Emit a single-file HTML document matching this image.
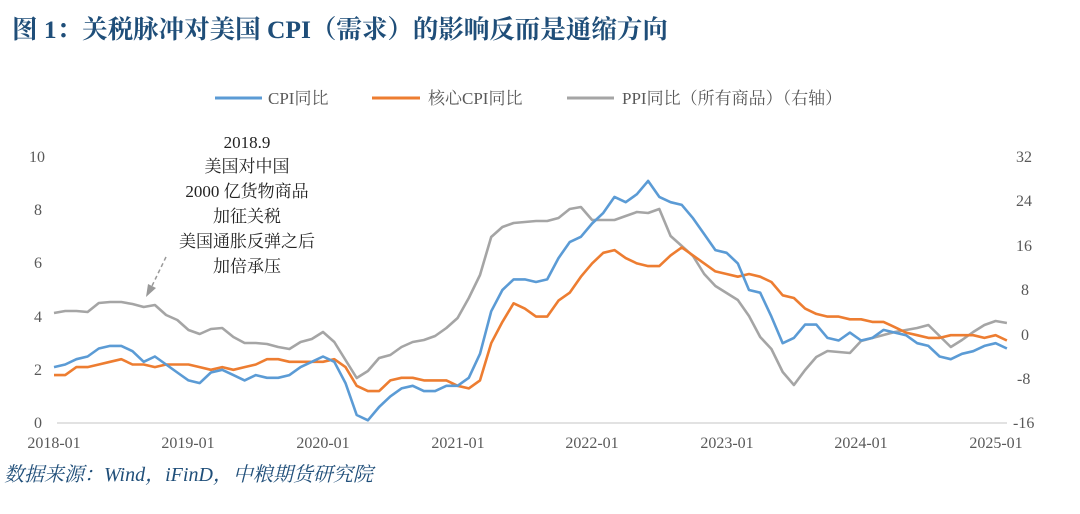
<!DOCTYPE html>
<html><head><meta charset="utf-8"><style>
body{margin:0;background:#fff;}
svg{display:block;}
</style></head><body>
<svg id="s" width="1080" height="514" xmlns="http://www.w3.org/2000/svg" font-family="'Liberation Serif','Noto Serif CJK SC',serif">
<text x="12" y="38" font-size="25.5" font-weight="bold" fill="#1f4e79">图 1：关税脉冲对美国 CPI（需求）的影响反而是通缩方向</text>
<g font-size="17" fill="#595959">
<line x1="215" y1="98" x2="262" y2="98" stroke="#5b9bd5" stroke-width="3"/>
<text x="268" y="104">CPI同比</text>
<line x1="372" y1="98" x2="420" y2="98" stroke="#ed7d31" stroke-width="3"/>
<text x="428" y="104">核心CPI同比</text>
<line x1="567" y1="98" x2="614" y2="98" stroke="#a5a5a5" stroke-width="3"/>
<text x="622" y="104">PPI同比（所有商品）（右轴）</text>
</g>
<line x1="57" y1="423" x2="1007" y2="423" stroke="#d9d9d9" stroke-width="1.5"/>
<g font-size="16" fill="#595959" text-anchor="end">
<text x="42" y="428">0</text><text x="42" y="375">2</text><text x="42" y="322">4</text><text x="42" y="268">6</text><text x="42" y="215">8</text><text x="45" y="162">10</text>
</g>
<g font-size="16" fill="#595959" text-anchor="start">
<text x="1013" y="428">-16</text><text x="1017" y="384">-8</text><text x="1021" y="340">0</text><text x="1021" y="295">8</text><text x="1016" y="251">16</text><text x="1016" y="206">24</text><text x="1016" y="162">32</text>
</g>
<g font-size="16" fill="#595959" text-anchor="middle">
<text x="54" y="448">2018-01</text><text x="188" y="448">2019-01</text><text x="323" y="448">2020-01</text><text x="458" y="448">2021-01</text><text x="592" y="448">2022-01</text><text x="727" y="448">2023-01</text><text x="861" y="448">2024-01</text><text x="996" y="448">2025-01</text>
</g>
<g font-size="17" fill="#222" text-anchor="middle">
<text x="247" y="148">2018.9</text>
<text x="247" y="172">美国对中国</text>
<text x="247" y="197">2000 亿货物商品</text>
<text x="247" y="222">加征关税</text>
<text x="247" y="247">美国通胀反弹之后</text>
<text x="247" y="272">加倍承压</text>
</g>
<line x1="166" y1="257" x2="151" y2="288" stroke="#999" stroke-width="1.5" stroke-dasharray="4,3"/>
<polygon points="146,297 148,284 156,288" fill="#999"/>
<g id="lines" fill="none" stroke-width="2.6" stroke-linejoin="round"></g>
<text x="4" y="481" font-size="20" font-style="italic" fill="#1f4e79">数据来源：Wind，iFinD，中粮期货研究院</text>
</svg>
<script>
var cpi=[2.1,2.2,2.4,2.5,2.8,2.9,2.9,2.7,2.3,2.5,2.2,1.9,1.6,1.5,1.9,2.0,1.8,1.6,1.8,1.7,1.7,1.8,2.1,2.3,2.5,2.3,1.5,0.3,0.1,0.6,1.0,1.3,1.4,1.2,1.2,1.4,1.4,1.7,2.6,4.2,5.0,5.4,5.4,5.3,5.4,6.2,6.8,7.0,7.5,7.9,8.5,8.3,8.6,9.1,8.5,8.3,8.2,7.7,7.1,6.5,6.4,6.0,5.0,4.9,4.0,3.0,3.2,3.7,3.7,3.2,3.1,3.4,3.1,3.2,3.5,3.4,3.3,3.0,2.9,2.5,2.4,2.6,2.7,2.9,3.0,2.8];
var core=[1.8,1.8,2.1,2.1,2.2,2.3,2.4,2.2,2.2,2.1,2.2,2.2,2.2,2.1,2.0,2.1,2.0,2.1,2.2,2.4,2.4,2.3,2.3,2.3,2.3,2.4,2.1,1.4,1.2,1.2,1.6,1.7,1.7,1.6,1.6,1.6,1.4,1.3,1.6,3.0,3.8,4.5,4.3,4.0,4.0,4.6,4.9,5.5,6.0,6.4,6.5,6.2,6.0,5.9,5.9,6.3,6.6,6.3,6.0,5.7,5.6,5.5,5.6,5.5,5.3,4.8,4.7,4.3,4.1,4.0,4.0,3.9,3.9,3.8,3.8,3.6,3.4,3.3,3.2,3.2,3.3,3.3,3.3,3.2,3.3,3.1];
var ppi=[313,311,311,312,303,302,302,304,307,305,315,320,330,334,329,328,337,343,343,344,347,349,342,339,332,342,360,378,371,358,355,347,342,340,336,328,318,298,275,237,227,223,222,221,221,218,209,207,220,220,220,216,212,213,209,236,246,256,274,286,293,300,316,337,349,372,385,370,357,351,352,353,355,351,345,340,
336,332,330,328,326,336,347,340,332,325,321,323];
ppi=ppi.slice(0,72).concat([341,338,335,332,330,328,325,336,347,340,332,325,321,323]);
function X(i){return 54+i*11.21;}
function mk(arr,f,c){var p=arr.map(function(v,i){return (i?'L':'M')+X(i).toFixed(1)+','+f(v).toFixed(1)}).join('');
var e=document.createElementNS('http://www.w3.org/2000/svg','path');e.setAttribute('d',p);e.setAttribute('stroke',c);document.getElementById('lines').appendChild(e);}
mk(ppi,function(v){return v},'#a5a5a5');
mk(core,function(v){return 423-v*26.6},'#ed7d31');
mk(cpi,function(v){return 423-v*26.6},'#5b9bd5');
</script>
</body></html>
